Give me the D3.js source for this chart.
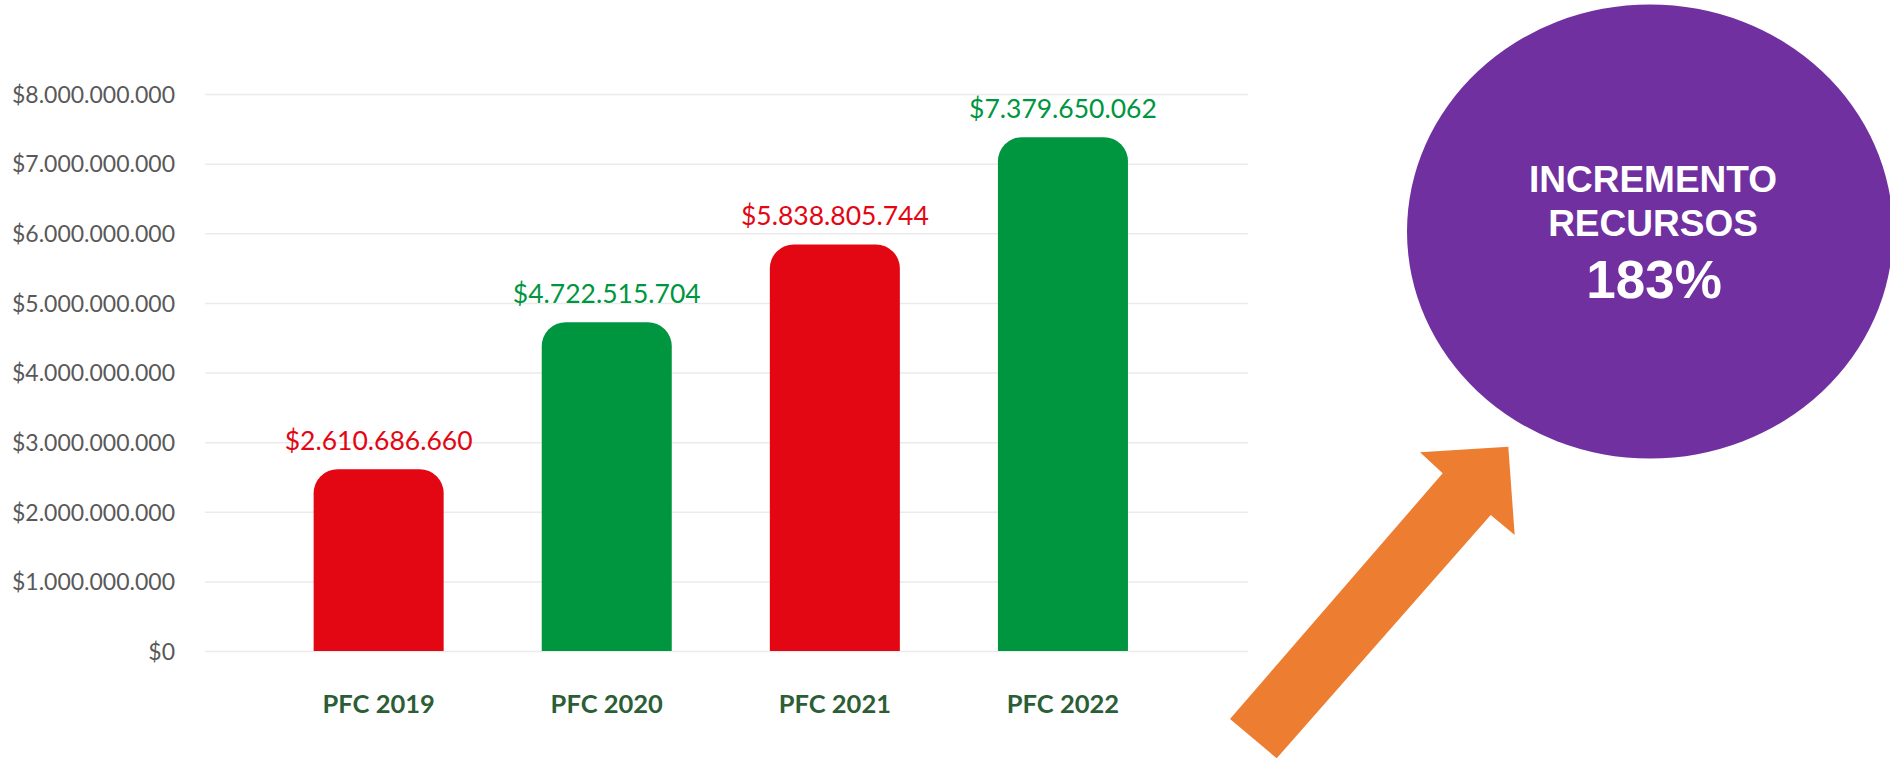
<!DOCTYPE html>
<html>
<head>
<meta charset="utf-8">
<script src="https://cdn.jsdelivr.net/npm/d3@7"></script>
<style>
  html, body { margin: 0; padding: 0; background: #fff; }
  #container svg { display: block; }
</style>
</head>
<body>
<div id="container"></div>
<script>
// chart data
const categories = ["PFC 2019", "PFC 2020", "PFC 2021", "PFC 2022"];
const values = [2610686660, 4722515704, 5838805744, 7379650062];
const yTicks = [0, 1e9, 2e9, 3e9, 4e9, 5e9, 6e9, 7e9, 8e9];
const calloutLines = ["INCREMENTO", "RECURSOS"];
const calloutValue = "183%";

const width = 1890;
const height = 759;

const locale = d3.formatLocale({
  decimal: ",",
  thousands: ".",
  grouping: [3],
  currency: ["$", ""],
});
const money = locale.format("$,.0f");

const svg = d3
  .select("#container")
  .append("svg")
  .attr("width", width)
  .attr("height", height);

const gridLeft = 205;
const gridRight = 1248;

const xScale = d3
  .scaleBand()
  .domain(categories)
  .range([264.6, 1177])
  .paddingInner(0.43)
  .paddingOuter(0.215);

const yScale = d3.scaleLinear().domain([0, 8e9]).range([651, 94]);

const color = d3
  .scaleOrdinal()
  .domain(categories)
  .range(["#E30613", "#00963F", "#E30613", "#00963F"]);

// y axis with gridlines
const yAxis = svg
  .append("g")
  .attr("transform", `translate(${gridLeft},0)`)
  .call(
    d3
      .axisLeft(yScale)
      .tickValues(yTicks)
      .tickSize(-(gridRight - gridLeft))
      .tickPadding(30)
      .tickFormat(money)
  );
yAxis.select(".domain").remove();
yAxis.selectAll("line").attr("stroke", "#EBEBEB").attr("stroke-width", 1.5);
yAxis
  .selectAll("text")
  .attr("fill", "#595959")
  .style("font-family", "Lato, sans-serif")
  .style("font-size", "23px")
  .attr("dy", "0.36em");

// bars with rounded top corners
const r = 24;
function barPath(d) {
  const x0 = xScale(d.cat);
  const x1 = x0 + xScale.bandwidth();
  const yTop = yScale(d.value);
  const yBot = yScale(0);
  return (
    `M${x0},${yBot}V${yTop + r}` +
    `A${r},${r} 0 0 1 ${x0 + r},${yTop}` +
    `H${x1 - r}A${r},${r} 0 0 1 ${x1},${yTop + r}` +
    `V${yBot}Z`
  );
}

const barData = categories.map((c, i) => ({ cat: c, value: values[i] }));

svg
  .append("g")
  .selectAll("path")
  .data(barData)
  .join("path")
  .attr("d", barPath)
  .attr("fill", (d) => color(d.cat));

// value labels
svg
  .append("g")
  .selectAll("text")
  .data(barData)
  .join("text")
  .attr("x", (d) => xScale(d.cat) + xScale.bandwidth() / 2)
  .attr("y", (d) => yScale(d.value) - 19)
  .attr("text-anchor", "middle")
  .attr("fill", (d) => color(d.cat))
  .style("font-family", "Lato, sans-serif")
  .style("font-size", "26.5px")
  .text((d) => money(d.value));

// x axis labels
const xAxis = svg
  .append("g")
  .attr("transform", `translate(0,${yScale(0)})`)
  .call(d3.axisBottom(xScale).tickSize(0).tickPadding(0));
xAxis.select(".domain").remove();
xAxis
  .selectAll("text")
  .attr("y", 62)
  .attr("dy", 0)
  .attr("fill", "#2C5E36")
  .style("font-family", "Lato, sans-serif")
  .style("font-weight", "bold")
  .style("font-size", "25.5px");

// arrow
const arrowPts = [
  [1230, 719],
  [1442.7, 473.3],
  [1420, 452.3],
  [1508.3, 446.7],
  [1514.7, 535],
  [1490.7, 515],
  [1276.7, 758.3],
];
svg
  .append("path")
  .attr("d", d3.line()(arrowPts) + "Z")
  .attr("fill", "#ED7D31");

// callout ellipse
svg
  .append("ellipse")
  .attr("cx", 1650)
  .attr("cy", 231.5)
  .attr("rx", 243)
  .attr("ry", 227)
  .attr("fill", "#7030A0");

const callout = svg
  .append("g")
  .attr("fill", "#fff")
  .attr("text-anchor", "middle")
  .style("font-family", "'Liberation Sans', Arial, sans-serif")
  .style("font-weight", "bold");

callout
  .selectAll("text.line")
  .data(calloutLines)
  .join("text")
  .attr("class", "line")
  .attr("x", 1653)
  .attr("y", (d, i) => 192 + i * 44)
  .style("font-size", "37px")
  .text((d) => d);

callout
  .append("text")
  .attr("x", 1654)
  .attr("y", 298)
  .style("font-size", "53px")
  .text(calloutValue);
</script>
</body>
</html>
